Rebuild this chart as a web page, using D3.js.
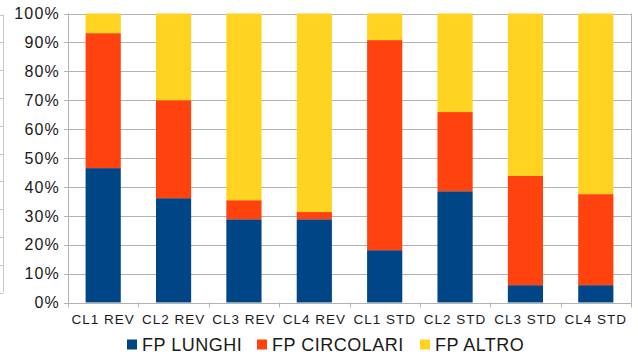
<!DOCTYPE html>
<html>
<head>
<meta charset="utf-8">
<script src="https://cdn.jsdelivr.net/npm/d3@7"></script>
<style>
  html, body { margin: 0; padding: 0; background: #fff; }
  svg { display: block; font-family: "Liberation Sans", Arial, sans-serif; }
</style>
</head>
<body>
<svg id="chart" width="638" height="358"></svg>
<script>
// Categories and series shares (percent of each column)
const categories = ["CL1 REV", "CL2 REV", "CL3 REV", "CL4 REV", "CL1 STD", "CL2 STD", "CL3 STD", "CL4 STD"];
const seriesNames = ["FP LUNGHI", "FP CIRCOLARI", "FP ALTRO"];
const fpLunghi    = [46.5, 36.1, 28.8, 28.8, 18.1, 38.5, 6.0, 6.0];
const fpCircolari = [46.7, 33.9, 6.6, 2.5, 72.7, 27.4, 37.8, 31.5];
const fpAltro     = [6.8, 30.0, 64.6, 68.7, 9.2, 34.1, 56.2, 62.5];
const yTicks = [0, 10, 20, 30, 40, 50, 60, 70, 80, 90, 100];
const colors = ["#004586", "#ff420e", "#ffd320"];

const svg = d3.select("#chart");
const margin = { left: 68, right: 7, top: 13.5, bottom: 55.5 };
const W = 638, H = 358;

const x = d3.scaleBand().domain(categories).range([margin.left, W - margin.right]).paddingInner(0.5).paddingOuter(0.25);
const y = d3.scaleLinear().domain([0, 100]).range([H - margin.bottom, margin.top]);

// Rows for stacking
const rows = categories.map((c, i) => ({
  cat: c,
  "FP LUNGHI": fpLunghi[i],
  "FP CIRCOLARI": fpCircolari[i],
  "FP ALTRO": fpAltro[i]
}));
const stacked = d3.stack().keys(seriesNames).offset(d3.stackOffsetExpand)(rows);

// Fragment of a neighbouring axis at the far left edge
const yEdge = d3.scaleLinear().domain([0, 100]).range([292.5, 14.5]);
const edge = svg.append("g").attr("stroke", "#c8c8c8").attr("stroke-width", 1);
edge.append("line").attr("x1", 3.5).attr("x2", 3.5).attr("y1", yEdge(100)).attr("y2", yEdge(0));
edge.selectAll("line.t").data(yTicks).join("line").attr("class", "t")
  .attr("x1", 0).attr("x2", 3.5)
  .attr("y1", d => Math.round(yEdge(d)) + 0.5).attr("y2", d => Math.round(yEdge(d)) + 0.5);

// Horizontal gridlines
svg.append("g").selectAll("line").data(yTicks).join("line")
  .attr("x1", margin.left - 4).attr("x2", W - margin.right)
  .attr("y1", d => Math.round(y(d)) + 0.5).attr("y2", d => Math.round(y(d)) + 0.5)
  .attr("stroke", "#b3b3b3").attr("stroke-width", 1);

// Bars
svg.append("g").selectAll("g").data(stacked).join("g")
  .attr("fill", (d, i) => colors[i])
  .selectAll("rect").data(d => d).join("rect")
  .attr("x", d => x(d.data.cat))
  .attr("width", x.bandwidth())
  .attr("y", d => y(d[1] * 100))
  .attr("height", d => y(d[0] * 100) - y(d[1] * 100));

// Axis frame: left axis, right border, baseline
const frame = svg.append("g").attr("stroke", "#b3b3b3").attr("stroke-width", 1);
frame.append("line").attr("x1", margin.left + 0.5).attr("x2", margin.left + 0.5).attr("y1", y(100)).attr("y2", y(0) + 5);
frame.append("line").attr("x1", W - margin.right + 0.5).attr("x2", W - margin.right + 0.5).attr("y1", y(100)).attr("y2", y(0) + 5);
// Category boundary ticks
const bounds = categories.map(c => x(c) - x.step() * x.paddingInner() / 2).slice(1);
frame.selectAll("line.b").data(bounds).join("line").attr("class", "b")
  .attr("x1", d => Math.round(d) + 0.5).attr("x2", d => Math.round(d) + 0.5)
  .attr("y1", y(0)).attr("y2", y(0) + 5);

// Y tick labels
svg.append("g").selectAll("text").data(yTicks).join("text")
  .attr("x", 60).attr("y", d => y(d))
  .attr("dy", "0.36em")
  .attr("text-anchor", "end")
  .attr("font-size", 16)
  .attr("letter-spacing", 1.2)
  .attr("fill", "#1a1a1a")
  .text(d => d + "%");

// X tick labels
svg.append("g").selectAll("text").data(categories).join("text")
  .attr("x", d => x(d) + x.bandwidth() / 2).attr("y", 324)
  .attr("text-anchor", "middle")
  .attr("font-size", 13.5)
  .attr("letter-spacing", 1)
  .attr("fill", "#1a1a1a")
  .text(d => d);

// Legend
const legendX = [127, 257, 420];
const legend = svg.append("g").selectAll("g").data(seriesNames).join("g")
  .attr("transform", (d, i) => `translate(${legendX[i]},345)`);
legend.append("rect").attr("x", 0).attr("y", -5.5).attr("width", 10).attr("height", 10)
  .attr("fill", (d, i) => colors[i]);
legend.append("text").attr("x", 15).attr("y", 0).attr("dy", "0.36em")
  .attr("font-size", 18).attr("letter-spacing", 0.5).attr("fill", "#1a1a1a")
  .text(d => d);
</script>
</body>
</html>
